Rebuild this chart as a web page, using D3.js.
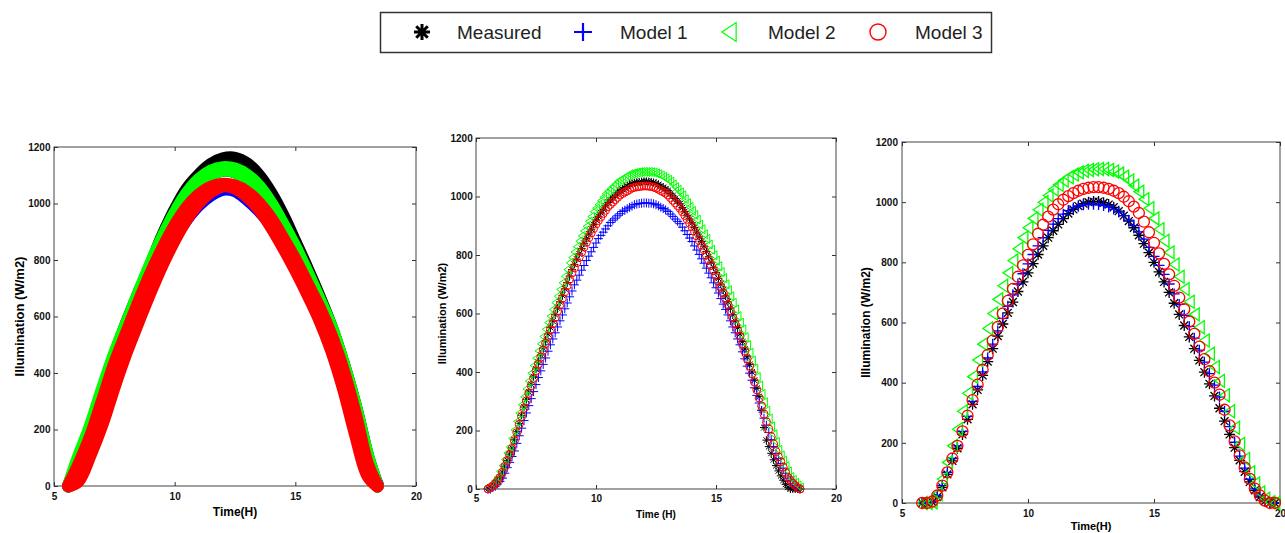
<!DOCTYPE html>
<meta charset="utf-8">
<script src="https://d3js.org/d3.v7.min.js"></script>
<style>
  body { margin: 0; background: #fff; }
  svg { font-family: "Liberation Sans", Arial, sans-serif; }
</style>
<div id="chart"></div>
<script>
  // ---- legend ----
  var seriesNames = ["Measured", "Model 1", "Model 2", "Model 3"];
  var seriesColors = ["#000000", "#0000ff", "#00ff00", "#ff0000"];
  var seriesMarkers = ["star", "plus", "tri", "circle"];
  var xTicks = [5, 10, 15, 20];
  var yTicks = [0, 200, 400, 600, 800, 1000, 1200];

  // ---- panel 1 : dense bands (upper / lower edge of each band) ----
  var p1Times = [5.6, 6.0, 6.5, 7.0, 7.5, 8.0, 8.5, 9.0, 9.5, 10.0, 10.5, 11.0, 11.5, 12.0,
    12.5, 13.0, 13.5, 14.0, 14.5, 15.0, 15.5, 16.0, 16.5, 17.0, 17.5, 18.0, 18.4];
  var p1MeasuredHi = [0, 90, 205, 335, 460, 575, 680, 780, 885, 975, 1050, 1100, 1138, 1158,
    1160, 1140, 1098, 1035, 955, 862, 768, 668, 560, 430, 280, 105, 0];
  var p1MeasuredLo = [0, 40, 150, 270, 400, 510, 615, 715, 810, 900, 980, 1050, 1100, 1118,
    1112, 1085, 1040, 975, 900, 820, 730, 640, 540, 410, 260, 95, 0];
  var p1Model1Hi = [0, 60, 168, 295, 425, 535, 640, 740, 830, 905, 965, 1010, 1040, 1052,
    1048, 1025, 985, 930, 860, 785, 705, 620, 520, 400, 250, 85, 5];
  var p1Model1Lo = [0, 25, 125, 235, 367, 489, 598, 704, 800, 880, 945, 995, 1030, 1050,
    1045, 1015, 975, 925, 858, 780, 695, 605, 495, 358, 195, 50, 5];
  var p1Model2Hi = [0, 100, 210, 342, 466, 575, 682, 785, 880, 965, 1035, 1085, 1115, 1127,
    1122, 1100, 1060, 1000, 925, 845, 755, 660, 560, 430, 280, 105, 0];
  var p1Model2Lo = [0, 40, 150, 270, 400, 510, 615, 715, 810, 900, 980, 1050, 1100, 1118,
    1112, 1085, 1040, 975, 900, 820, 730, 640, 540, 410, 260, 95, 0];
  var p1Model3Hi = [0, 70, 172, 300, 430, 540, 648, 750, 840, 920, 985, 1030, 1058, 1068,
    1062, 1040, 1000, 945, 875, 800, 715, 630, 530, 405, 250, 75, 0];
  var p1Model3Lo = [0, 17, 110, 220, 352, 474, 583, 689, 786, 872, 946, 1003, 1042, 1062,
    1055, 1025, 980, 918, 845, 766, 681, 590, 480, 343, 180, 37, 0];

  // ---- panel 2 : 6-minute samples ----
  var p2Times = [5.5, 5.6, 5.7, 5.8, 5.9, 6.0, 6.1, 6.2, 6.3, 6.4,
    6.5, 6.6, 6.7, 6.8, 6.9, 7.0, 7.1, 7.2, 7.3, 7.4,
    7.5, 7.6, 7.7, 7.8, 7.9, 8.0, 8.1, 8.2, 8.3, 8.4,
    8.5, 8.6, 8.7, 8.8, 8.9, 9.0, 9.1, 9.2, 9.3, 9.4,
    9.5, 9.6, 9.7, 9.8, 9.9, 10.0, 10.1, 10.2, 10.3, 10.4,
    10.5, 10.6, 10.7, 10.8, 10.9, 11.0, 11.1, 11.2, 11.3, 11.4,
    11.5, 11.6, 11.7, 11.8, 11.9, 12.0, 12.1, 12.2, 12.3, 12.4,
    12.5, 12.6, 12.7, 12.8, 12.9, 13.0, 13.1, 13.2, 13.3, 13.4,
    13.5, 13.6, 13.7, 13.8, 13.9, 14.0, 14.1, 14.2, 14.3, 14.4,
    14.5, 14.6, 14.7, 14.8, 14.9, 15.0, 15.1, 15.2, 15.3, 15.4,
    15.5, 15.6, 15.7, 15.8, 15.9, 16.0, 16.1, 16.2, 16.3, 16.4,
    16.5, 16.6, 16.7, 16.8, 16.9, 17.0, 17.1, 17.2, 17.3, 17.4,
    17.5, 17.6, 17.7, 17.8, 17.9, 18.0, 18.1, 18.2, 18.3, 18.4,
    18.5];
  var p2Measured = [0, 5, 10, 18, 28, 40, 58, 78, 98, 119,
    140, 168, 196, 224, 252, 280, 306, 332, 358, 384,
    410, 434, 458, 482, 506, 530, 552, 574, 596, 618,
    640, 662, 684, 706, 728, 750, 768, 786, 804, 822,
    840, 856, 872, 888, 904, 920, 932, 944, 956, 968,
    980, 988, 996, 1004, 1012, 1020, 1025, 1030, 1035, 1040,
    1045, 1047, 1049, 1050, 1051, 1052, 1052, 1051, 1050, 1048,
    1045, 1041, 1036, 1031, 1026, 1020, 1011, 1002, 993, 984,
    975, 962, 949, 936, 923, 910, 894, 878, 862, 846,
    830, 812, 794, 776, 758, 740, 720, 700, 680, 660,
    640, 618, 596, 574, 552, 530, 504, 478, 452, 426,
    400, 372, 344, 316, 270, 210, 167, 145, 122, 100,
    80, 62, 45, 30, 16, 6, 0, 0, 0, 0,
    0];
  var p2Model1 = [0, 0, 5, 9, 17, 26, 37, 54, 73, 91,
    111, 130, 156, 182, 208, 234, 260, 285, 309, 333,
    357, 381, 404, 426, 448, 471, 493, 513, 534, 554,
    575, 595, 616, 636, 657, 677, 698, 714, 731, 748,
    764, 781, 796, 811, 826, 841, 856, 867, 878, 889,
    900, 911, 919, 926, 934, 941, 949, 953, 958, 963,
    967, 972, 974, 976, 977, 978, 978, 977, 977, 975,
    972, 968, 963, 959, 954, 949, 940, 932, 923, 915,
    907, 895, 883, 870, 858, 846, 831, 817, 802, 787,
    772, 755, 738, 722, 705, 688, 670, 651, 632, 614,
    595, 575, 554, 534, 513, 493, 469, 445, 420, 396,
    372, 346, 320, 294, 268, 242, 218, 193, 169, 145,
    121, 104, 87, 71, 54, 37, 28, 19, 11, 5,
    0];
  var p2Model2 = [5, 10, 19, 29, 41, 60, 80, 101, 123, 144,
    173, 202, 231, 260, 288, 315, 342, 369, 396, 422,
    447, 472, 496, 521, 546, 569, 591, 614, 637, 659,
    682, 705, 727, 750, 773, 791, 810, 828, 847, 865,
    882, 898, 915, 931, 948, 960, 972, 985, 997, 1009,
    1018, 1026, 1034, 1042, 1051, 1056, 1061, 1066, 1071, 1076,
    1078, 1080, 1082, 1083, 1084, 1084, 1084, 1084, 1083, 1082,
    1079, 1076, 1072, 1067, 1062, 1057, 1051, 1041, 1032, 1023,
    1014, 1004, 991, 977, 964, 951, 937, 921, 904, 888,
    871, 855, 836, 818, 799, 781, 762, 742, 721, 700,
    680, 659, 637, 614, 591, 569, 546, 519, 492, 466,
    439, 412, 383, 354, 325, 297, 268, 241, 214, 187,
    161, 134, 115, 97, 78, 60, 41, 31, 21, 12,
    5];
  var p2Model3 = [0, 5, 10, 18, 28, 39, 57, 77, 97, 117,
    138, 165, 193, 221, 248, 276, 301, 327, 353, 378,
    404, 427, 451, 475, 498, 522, 544, 565, 587, 609,
    630, 652, 674, 695, 717, 739, 756, 774, 792, 810,
    827, 843, 859, 875, 890, 906, 918, 930, 942, 953,
    965, 973, 981, 989, 997, 1005, 1010, 1015, 1019, 1024,
    1029, 1031, 1033, 1034, 1035, 1036, 1036, 1035, 1034, 1032,
    1029, 1025, 1020, 1016, 1011, 1005, 996, 987, 978, 969,
    960, 948, 935, 922, 909, 896, 881, 865, 849, 833,
    818, 800, 782, 764, 747, 729, 709, 690, 670, 650,
    630, 609, 587, 565, 544, 522, 496, 471, 445, 420,
    394, 366, 339, 311, 284, 256, 230, 205, 179, 154,
    128, 110, 93, 75, 57, 39, 30, 20, 12, 5,
    0];

  // ---- panel 3 : 12-minute samples ----
  var p3Times = [5.8, 6.0, 6.2, 6.4, 6.6, 6.8, 7.0, 7.2, 7.4, 7.6,
    7.8, 8.0, 8.2, 8.4, 8.6, 8.8, 9.0, 9.2, 9.4, 9.6,
    9.8, 10.0, 10.2, 10.4, 10.6, 10.8, 11.0, 11.2, 11.4, 11.6,
    11.8, 12.0, 12.2, 12.4, 12.6, 12.8, 13.0, 13.2, 13.4, 13.6,
    13.8, 14.0, 14.2, 14.4, 14.6, 14.8, 15.0, 15.2, 15.4, 15.6,
    15.8, 16.0, 16.2, 16.4, 16.6, 16.8, 17.0, 17.2, 17.4, 17.6,
    17.8, 18.0, 18.2, 18.4, 18.6, 18.8, 19.0, 19.2, 19.4, 19.6,
    19.8];
  var p3Measured = [0, 0, 3, 20, 52, 95, 140, 182, 228, 278,
    328, 376, 424, 470, 513, 555, 595, 632, 668, 703,
    735, 765, 796, 826, 855, 882, 905, 926, 945, 962,
    976, 987, 995, 1000, 1002, 1002, 998, 992, 983, 970,
    955, 937, 915, 890, 862, 832, 800, 768, 735, 700,
    664, 627, 590, 552, 513, 474, 435, 396, 356, 315,
    272, 228, 184, 142, 104, 70, 42, 20, 6, 0,
    0];
  var p3Model1 = [0, 0, 5, 25, 58, 102, 148, 190, 238, 288,
    338, 388, 436, 482, 528, 572, 614, 654, 692, 728,
    762, 795, 826, 855, 882, 906, 927, 945, 960, 972,
    981, 987, 991, 993, 993, 992, 989, 984, 977, 967,
    955, 940, 922, 901, 877, 850, 820, 790, 760, 728,
    695, 660, 624, 587, 548, 508, 468, 430, 392, 352,
    305, 254, 202, 156, 116, 79, 47, 24, 8, 0,
    0];
  var p3Model2 = [0, 0, 2, 30, 80, 135, 190, 245, 305, 365,
    420, 475, 528, 580, 630, 677, 722, 765, 806, 845,
    882, 915, 946, 975, 1000, 1022, 1042, 1058, 1072, 1083,
    1092, 1099, 1104, 1107, 1109, 1110, 1110, 1107, 1102, 1095,
    1085, 1072, 1055, 1035, 1010, 980, 946, 910, 872, 833,
    793, 752, 711, 669, 627, 584, 540, 496, 452, 406,
    358, 305, 250, 196, 146, 102, 65, 35, 14, 3,
    0];
  var p3Model3 = [0, 0, 5, 25, 58, 102, 148, 190, 238, 290,
    342, 393, 443, 492, 540, 585, 630, 672, 712, 752,
    790, 825, 860, 895, 925, 952, 975, 993, 1008, 1020,
    1030, 1038, 1044, 1048, 1050, 1050, 1048, 1044, 1038, 1030,
    1018, 1003, 985, 964, 935, 900, 865, 830, 795, 760,
    722, 683, 644, 603, 562, 520, 478, 438, 400, 360,
    310, 258, 205, 158, 118, 80, 48, 25, 8, 0,
    0];

  var svg = d3.select("#chart").append("svg")
    .attr("width", 1285)
    .attr("height", 533);

  // marker shapes, r = half size
  function markerPath(type, r) {
    var d = r * 0.72;
    if (type === "star") {
      return "M" + (-r) + ",0H" + r + "M0," + (-r) + "V" + r +
        "M" + (-d) + "," + (-d) + "L" + d + "," + d + "M" + (-d) + "," + d + "L" + d + "," + (-d);
    }
    if (type === "plus") return "M" + (-r) + ",0H" + r + "M0," + (-r) + "V" + r;
    if (type === "tri") return "M" + (-r * 0.75) + ",0L" + (r * 0.75) + "," + (-r) + "L" + (r * 0.75) + "," + r + "Z";
    return "M" + r + ",0A" + r + "," + r + " 0 1,1 " + (-r) + ",0A" + r + "," + r + " 0 1,1 " + r + ",0";
  }

  // axes box with inward ticks on all sides
  function drawFrame(b) {
    var x = d3.scaleLinear().domain([5, 20]).range([b.left, b.right]);
    var y = d3.scaleLinear().domain([0, 1200]).range([b.bottom, b.top]);
    var g = svg.append("g");

    g.append("rect")
      .attr("x", b.left).attr("y", b.top)
      .attr("width", b.right - b.left).attr("height", b.bottom - b.top)
      .attr("fill", "none").attr("stroke", "#555").attr("stroke-width", 1.1);

    var fmt = d3.format("d");
    var axes = [
      { a: d3.axisBottom(x).tickValues(xTicks).tickFormat(fmt).tickPadding(b.xPad), t: "translate(0," + b.bottom + ")" },
      { a: d3.axisTop(x).tickValues(xTicks).tickFormat(""), t: "translate(0," + b.top + ")" },
      { a: d3.axisLeft(y).tickValues(yTicks).tickFormat(fmt).tickPadding(b.yPad), t: "translate(" + b.left + ",0)" },
      { a: d3.axisRight(y).tickValues(yTicks).tickFormat(""), t: "translate(" + b.right + ",0)" }
    ];
    axes.forEach(function (ax) {
      var s = g.append("g")
        .attr("transform", ax.t)
        .call(ax.a.tickSize(-4).tickSizeOuter(0));
      s.select(".domain").remove();
      s.selectAll("line").attr("stroke", "#333");
      s.selectAll("text")
        .attr("fill", "#111")
        .style("font-size", b.tickFont + "px")
        .style("font-weight", "bold");
    });

    g.append("text")
      .attr("transform", "translate(" + b.yLabelX + "," + (b.top + b.bottom) / 2 + ") rotate(-90)")
      .attr("text-anchor", "middle")
      .style("font-size", b.yLabelFont + "px")
      .style("font-weight", "bold")
      .text("Illumination (W/m2)");

    g.append("text")
      .attr("x", (b.left + b.right) / 2)
      .attr("y", b.xLabelY)
      .attr("text-anchor", "middle")
      .style("font-size", b.xLabelFont + "px")
      .style("font-weight", "bold")
      .text(b.xLabel);

    return { x: x, y: y, g: g };
  }

  // ---- panel 1 ----
  var f1 = drawFrame({ left: 54, right: 416, top: 147, bottom: 486, xPad: 7, yPad: 3.5, tickFont: 10,
    yLabelX: 23.5, yLabelFont: 13, xLabelY: 516, xLabelFont: 12, xLabel: "Time(H)" });

  var bands = [
    [p1MeasuredLo, p1MeasuredHi],
    [p1Model1Lo, p1Model1Hi],
    [p1Model2Lo, p1Model2Hi],
    [p1Model3Lo, p1Model3Hi]
  ];
  var band = d3.area()
    .x(function (d, i) { return f1.x(p1Times[i]); })
    .y0(function (d) { return f1.y(d[0]); })
    .y1(function (d) { return f1.y(d[1]); })
    .curve(d3.curveCatmullRom);

  bands.forEach(function (b, k) {
    var data = b[0].map(function (v, i) { return [v, b[1][i]]; });
    f1.g.append("path")
      .datum(data)
      .attr("d", band)
      .attr("fill", seriesColors[k])
      .attr("stroke", seriesColors[k])
      .attr("stroke-width", 13)
      .attr("stroke-linejoin", "round");
  });

  // ---- marker panels ----
  function drawMarkers(f, times, list, r, sw) {
    list.forEach(function (values, k) {
      f.g.append("g")
        .selectAll("path")
        .data(values.map(function (v, i) { return [times[i], v]; }))
        .enter()
        .append("path")
        .attr("transform", function (d) { return "translate(" + f.x(d[0]) + "," + f.y(d[1]) + ")"; })
        .attr("d", markerPath(seriesMarkers[k], r[k]))
        .attr("fill", "none")
        .attr("stroke", seriesColors[k])
        .attr("stroke-width", sw);
    });
  }

  var f2 = drawFrame({ left: 476, right: 836, top: 138, bottom: 489, xPad: 5.5, yPad: 3.3, tickFont: 10,
    yLabelX: 445.5, yLabelFont: 11, xLabelY: 518, xLabelFont: 10, xLabel: "Time (H)" });
  drawMarkers(f2, p2Times, [p2Measured, p2Model1, p2Model2, p2Model3], [4, 4.5, 4.5, 4], 1);

  var f3 = drawFrame({ left: 902, right: 1280, top: 142, bottom: 503, xPad: 6.5, yPad: 4, tickFont: 10,
    yLabelX: 870, yLabelFont: 12, xLabelY: 530, xLabelFont: 11, xLabel: "Time(H)" });
  drawMarkers(f3, p3Times, [p3Measured, p3Model1, p3Model2, p3Model3], [5.5, 5.5, 6.5, 5.5], 1.3);

  // ---- legend ----
  var legend = svg.append("g");
  legend.append("rect")
    .attr("x", 380.5).attr("y", 12.5)
    .attr("width", 611).attr("height", 40)
    .attr("fill", "#fff").attr("stroke", "#333").attr("stroke-width", 1.5);

  var legendMarkX = [422, 583, 729, 878];
  var legendTextX = [457, 620, 768, 915];
  var legendR = [8, 9, 9.5, 8];
  var legendW = [3, 2.2, 1.2, 1.4];
  seriesNames.forEach(function (name, k) {
    legend.append("path")
      .attr("transform", "translate(" + legendMarkX[k] + ",32)")
      .attr("d", markerPath(seriesMarkers[k], legendR[k]))
      .attr("fill", "none")
      .attr("stroke", seriesColors[k])
      .attr("stroke-width", legendW[k]);
    legend.append("text")
      .attr("x", legendTextX[k])
      .attr("y", 39)
      .style("font-size", "19px")
      .attr("fill", "#222")
      .text(name);
  });
</script>
